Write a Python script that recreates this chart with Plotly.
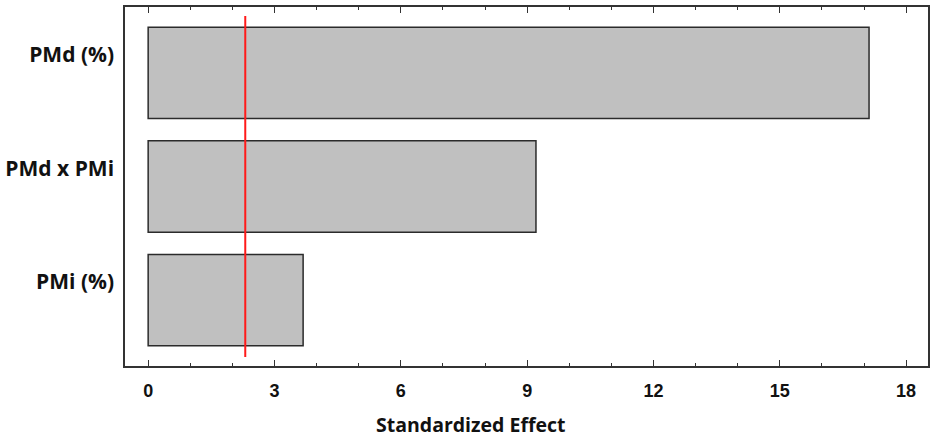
import plotly.graph_objects as go

# Datos (efecto estandarizado, diagrama de Pareto)
factores = ['PMi (%)', 'PMd x PMi', 'PMd (%)']
efectos = [3.68, 9.21, 17.12]
valor_critico = 2.306  # línea de significancia
x_ticks = [0, 3, 6, 9, 12, 15, 18]

fig = go.Figure()

fig.add_trace(go.Bar(
    y=factores,
    x=efectos,
    orientation='h',
    width=0.805,
    marker=dict(color='#c0c0c0', line=dict(color='#2b2b2b', width=1.5)),
    showlegend=False,
))

# línea roja vertical del valor crítico
fig.add_shape(
    type='line', xref='x', yref='y',
    x0=valor_critico, x1=valor_critico, y0=-0.5, y1=2.5,
    line=dict(color='#ff1a1a', width=2),
)

fig.update_xaxes(
    range=[-0.55, 18.52],
    tickvals=x_ticks,
    ticktext=['<b>%d</b>' % v for v in x_ticks],
    ticks='inside', ticklen=6, tickwidth=1.2, tickcolor='#333',
    minor=dict(dtick=1, ticks='inside', ticklen=3, tickwidth=1.2, tickcolor='#333'),
    showline=True, linecolor='#333', linewidth=1.5, mirror='ticks',
    showgrid=False, zeroline=False,
    tickfont=dict(family='Liberation Sans', size=18, color='#111'),
    ticklabelstandoff=8,
)
fig.update_yaxes(
    range=[-0.58, 2.58],
    showline=True, linecolor='#333', linewidth=1.5, mirror=True,
    showgrid=False, ticks='', ticklabelstandoff=5, ticklabelshift=-18,
    tickfont=dict(family='Open Sans', size=21, color='#111'),
    tickvals=factores, ticktext=['<b>' + f + '</b>' for f in factores],
)

# título del eje x como anotación (desplazado a la izquierda como en el original)
fig.add_annotation(
    text='<b>Standardized Effect</b>', showarrow=False,
    xref='paper', yref='paper', x=0.4305, y=-0.163,
    xanchor='center', yanchor='middle',
    font=dict(family='Open Sans', size=19.5, color='#111'),
)

fig.update_layout(
    width=935, height=440,
    margin=dict(l=122, r=7, t=5, b=74),
    plot_bgcolor='white', paper_bgcolor='white',
    bargap=0.2,
)

# quitar el margen del body para que la figura ocupe toda la ventana
fig.write_html('out.html', config={'displayModeBar': False},
               post_script="document.body.style.margin='0px';")
